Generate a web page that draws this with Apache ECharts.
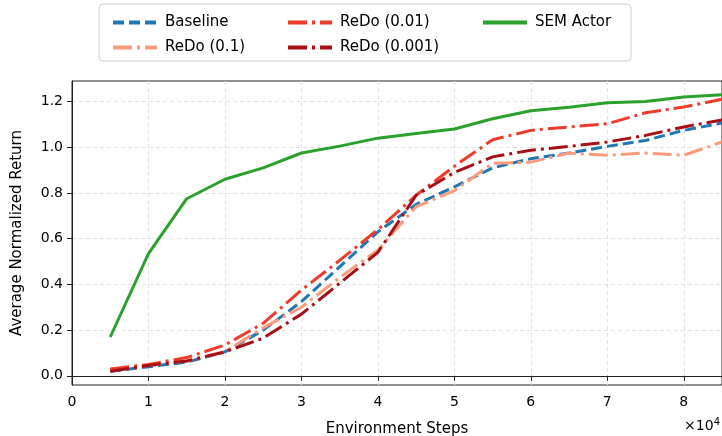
<!DOCTYPE html>
<html>
<head>
<meta charset="utf-8">
<script src="https://cdn.jsdelivr.net/npm/echarts@6/dist/echarts.min.js"></script>
<style>
  html, body { margin: 0; padding: 0; background: #fff; }
  #chart { width: 722px; height: 436px; }
</style>
</head>
<body>
<div id="chart"></div>
<script>
// 数据
var steps = [5000, 10000, 15000, 20000, 25000, 30000, 35000, 40000, 45000, 50000, 55000, 60000, 65000, 70000, 75000, 80000, 85000];
var baseline = [0.02, 0.04, 0.06, 0.105, 0.2, 0.325, 0.477, 0.63, 0.75, 0.827, 0.91, 0.95, 0.975, 1.004, 1.03, 1.074, 1.106];
var redo_0_1 = [0.025, 0.045, 0.065, 0.106, 0.21, 0.30, 0.43, 0.55, 0.74, 0.81, 0.93, 0.935, 0.975, 0.965, 0.975, 0.965, 1.023];
var redo_0_01 = [0.03, 0.05, 0.08, 0.135, 0.23, 0.375, 0.505, 0.64, 0.79, 0.917, 1.033, 1.074, 1.089, 1.103, 1.151, 1.176, 1.21];
var redo_0_001 = [0.02, 0.045, 0.065, 0.105, 0.165, 0.27, 0.405, 0.54, 0.79, 0.89, 0.958, 0.987, 1.004, 1.023, 1.052, 1.089, 1.12];
var semActor = [0.17, 0.535, 0.775, 0.86, 0.91, 0.975, 1.005, 1.04, 1.06, 1.08, 1.125, 1.16, 1.175, 1.195, 1.2, 1.22, 1.23];
var yTicks = [0, 0.2, 0.4, 0.6, 0.8, 1.0, 1.2];

var FONT = 'DejaVu Sans';

function pairs(ys) {
    return steps.map(function (x, i) { return [x, ys[i]]; });
}

function makeLine(name, ys, color, dash) {
    return {
        name: name,
        type: 'line',
        data: pairs(ys),
        symbol: 'none',
        smooth: false,
        lineStyle: { color: color, width: 3, type: dash, cap: 'butt' },
        itemStyle: { color: color }
    };
}

var legendText = { fontFamily: FONT, fontSize: 15, color: '#000', padding: [0, 0, 0, 3] };
function makeLegend(left, names) {
    return {
        orient: 'vertical',
        left: left,
        top: 10,
        itemWidth: 44,
        itemHeight: 15,
        itemGap: 10,
        data: names,
        itemStyle: { opacity: 0 },
        lineStyle: { width: 4 },
        textStyle: legendText
    };
}

var chart = echarts.init(document.getElementById('chart'));
chart.setOption({
    animation: false,
    backgroundColor: '#fff',
    grid: {
        left: 72, right: 0, top: 81, bottom: 51,
        outerBoundsMode: 'none',
        containLabel: false,
        show: true, borderColor: '#222', borderWidth: 1
    },
    legend: [
        makeLegend(106, ['Baseline', 'ReDo (0.1)']),
        makeLegend(281, ['ReDo (0.01)', 'ReDo (0.001)']),
        makeLegend(476, ['SEM Actor'])
    ],
    graphic: [
        {
            type: 'rect',
            shape: { x: 99, y: 4, width: 532, height: 57, r: 4 },
            style: { fill: 'none', stroke: '#d0d0d0', lineWidth: 1 },
            z: 0
        },
        {
            type: 'text',
            right: 2,
            top: 417,
            style: {
                text: '×10{s|4}',
                font: '14px "DejaVu Sans"',
                fill: '#000',
                rich: { s: { fontSize: 10, fontFamily: FONT, verticalAlign: 'top', padding: [0, 0, 8, 0] } }
            }
        }
    ],
    xAxis: {
        type: 'value',
        min: 0,
        max: 85000,
        interval: 10000,
        name: 'Environment Steps',
        nameLocation: 'middle',
        nameGap: 37,
        nameTextStyle: { fontFamily: FONT, fontSize: 15, color: '#000' },
        axisLine: { show: true, lineStyle: { color: '#222', width: 1 } },
        axisTick: { show: true, inside: false, length: 5, lineStyle: { color: '#222' } },
        axisLabel: {
            fontFamily: FONT, fontSize: 14, color: '#000', margin: 10,
            formatter: function (v) { return v % 10000 === 0 ? String(v / 10000) : ''; }
        },
        splitLine: { show: true, lineStyle: { color: '#e3e3e3', type: [4, 3], width: 1 } }
    },
    yAxis: {
        type: 'value',
        min: -0.04,
        max: 1.29,
        name: 'Average Normalized Return',
        nameLocation: 'middle',
        nameGap: 47,
        nameTextStyle: { fontFamily: FONT, fontSize: 15, color: '#000' },
        axisLine: { show: true, lineStyle: { color: '#222', width: 1 } },
        axisTick: { show: true, inside: false, length: 5, lineStyle: { color: '#222' }, customValues: yTicks },
        axisLabel: {
            fontFamily: FONT, fontSize: 14, color: '#000', margin: 9,
            customValues: yTicks,
            formatter: function (v) { return v.toFixed(1); }
        },
        splitLine: { show: true, lineStyle: { color: '#e3e3e3', type: [4, 3], width: 1 } }
    },
    series: [
        makeLine('Baseline', baseline, '#1f77b4', [11, 5]),
        makeLine('ReDo (0.1)', redo_0_1, '#fc9a7c', [19, 5, 3, 5]),
        makeLine('ReDo (0.01)', redo_0_01, '#ef3b2c', [19, 5, 3, 5]),
        makeLine('ReDo (0.001)', redo_0_001, '#a50f15', [19, 5, 3, 5]),
        makeLine('SEM Actor', semActor, '#2ca02c', 'solid')
    ]
});

window.onresize = function () {
    chart.resize();
};
</script>
</body>
</html>
